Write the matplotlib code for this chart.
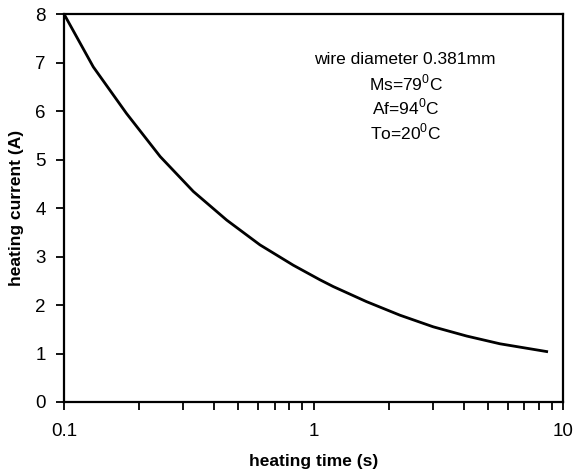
import matplotlib
matplotlib.use('Agg')
import matplotlib.pyplot as plt
from matplotlib.ticker import FixedLocator, LogLocator, NullFormatter

plt.rcParams['font.family'] = ['Liberation Sans', 'DejaVu Sans']

# values
time_s = [0.1, 0.131, 0.178, 0.243, 0.330, 0.449, 0.610, 0.830, 1.061,
          1.20, 1.63, 2.22, 3.02, 4.11, 5.59, 8.6]
current_a = [8.0, 6.91, 5.95, 5.06, 4.34, 3.75, 3.24, 2.82, 2.52,
             2.38, 2.07, 1.79, 1.55, 1.36, 1.20, 1.04]
x_ticks = [0.1, 1, 10]
x_ticklabels = ['0.1', '1', '10']
y_ticks = [0, 1, 2, 3, 4, 5, 6, 7, 8]
notes = ['wire diameter 0.381mm', r'Ms=79$^\mathregular{0}$C',
         r'Af=94$^\mathregular{0}$C', r'To=20$^\mathregular{0}$C']

fig = plt.figure(figsize=(5.8, 4.69), dpi=100)
ax = fig.add_axes([64 / 580, 1 - 402 / 469, 499 / 580, 388 / 469])

ax.plot(time_s, current_a, color='black', lw=2)

ax.set_xscale('log')
ax.set_xlim(0.1, 10)
ax.set_ylim(0, 8)
ax.xaxis.set_major_locator(FixedLocator(x_ticks))
ax.set_xticklabels(x_ticklabels)
ax.xaxis.set_minor_locator(LogLocator(base=10, subs=range(2, 10)))
ax.xaxis.set_minor_formatter(NullFormatter())
ax.set_yticks(y_ticks)

for s in ax.spines.values():
    s.set_linewidth(1.6)
ax.tick_params(axis='both', which='both', direction='out', length=6, width=1.3,
               labelsize=13.5, colors='black')
ax.tick_params(axis='x', pad=9)
ax.tick_params(axis='y', pad=7)

ax.set_xlabel('heating time (s)', fontsize=12.5, fontweight='bold', labelpad=10)
ax.set_ylabel('heating current (A)', fontsize=12.5, fontweight='bold', labelpad=8)

fig.text(405 / 580, 1 - 60 / 469, notes[0], ha='center', va='center', fontsize=12.5)
for i, n in enumerate(notes[1:]):
    fig.text(406 / 580, 1 - (83 + 24.5 * i) / 469, n, ha='center', va='center', fontsize=12.5)

fig.savefig('out.png', dpi=100)
